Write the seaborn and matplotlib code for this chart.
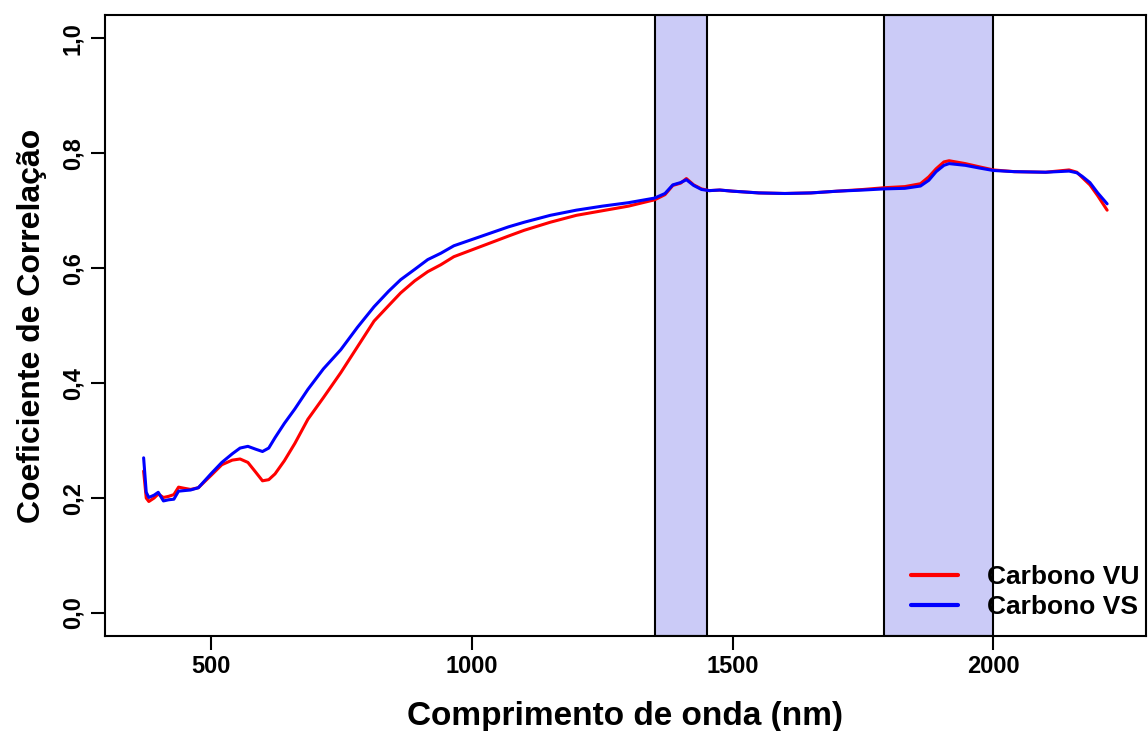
import pandas as pd
import matplotlib
matplotlib.use("Agg")
import matplotlib.pyplot as plt
import seaborn as sns

# wavelength (nm) and correlation values
wavelength = [370, 375, 380, 390, 398, 408, 418, 428, 437, 448, 460, 475, 500, 520, 540,
              555, 570, 585, 598, 610, 622, 640, 660, 685, 715, 748, 780, 812, 840, 863,
              890, 915, 940, 965, 1000, 1035, 1070, 1100, 1150, 1200, 1250, 1300, 1350,
              1370, 1385, 1400, 1411, 1425, 1440, 1455, 1475, 1500, 1550, 1600, 1650,
              1700, 1750, 1790, 1830, 1860, 1876, 1890, 1905, 1915, 1946, 1975, 2000,
              2040, 2100, 2145, 2160, 2170, 2185, 2200, 2218]

carbono_vu = [0.247, 0.200, 0.194, 0.200, 0.207, 0.201, 0.203, 0.206, 0.219, 0.217, 0.215,
              0.218, 0.240, 0.258, 0.266, 0.268, 0.262, 0.245, 0.230, 0.232, 0.242, 0.265,
              0.295, 0.337, 0.375, 0.418, 0.463, 0.508, 0.535, 0.557, 0.578, 0.594, 0.606,
              0.620, 0.632, 0.644, 0.656, 0.666, 0.680, 0.692, 0.700, 0.708, 0.719, 0.728,
              0.744, 0.748, 0.756, 0.745, 0.738, 0.735, 0.736, 0.734, 0.731, 0.730, 0.731,
              0.734, 0.737, 0.740, 0.742, 0.747, 0.759, 0.773, 0.785, 0.787, 0.782, 0.776,
              0.771, 0.768, 0.767, 0.771, 0.767, 0.758, 0.745, 0.726, 0.701]

carbono_vs = [0.270, 0.210, 0.201, 0.205, 0.210, 0.195, 0.197, 0.198, 0.212, 0.213, 0.214,
              0.218, 0.243, 0.262, 0.277, 0.287, 0.290, 0.285, 0.281, 0.287, 0.305, 0.330,
              0.355, 0.389, 0.425, 0.458, 0.497, 0.533, 0.560, 0.580, 0.598, 0.615, 0.626,
              0.639, 0.650, 0.661, 0.672, 0.680, 0.692, 0.701, 0.708, 0.714, 0.722, 0.730,
              0.745, 0.749, 0.754, 0.744, 0.737, 0.735, 0.736, 0.734, 0.731, 0.730, 0.731,
              0.734, 0.736, 0.738, 0.739, 0.743, 0.753, 0.768, 0.779, 0.782, 0.779, 0.774,
              0.770, 0.768, 0.767, 0.769, 0.766, 0.760, 0.749, 0.731, 0.712]

# highlighted bands (nm)
bands = [(1350, 1450), (1790, 2000)]

df = pd.concat([
    pd.DataFrame({"nm": wavelength, "r": carbono_vu, "serie": "Carbono VU"}),
    pd.DataFrame({"nm": wavelength, "r": carbono_vs, "serie": "Carbono VS"}),
])

sns.set_style("ticks")
plt.rcParams["font.family"] = ["Liberation Sans", "DejaVu Sans"]
plt.rcParams["font.weight"] = "bold"
for k in ["text.color", "axes.labelcolor", "xtick.color", "ytick.color", "axes.edgecolor"]:
    plt.rcParams[k] = "black"

fig = plt.figure(figsize=(11.48, 7.31), dpi=100)
ax = fig.add_axes([0.0915, 0.130, 0.9065, 0.849])

for lo, hi in bands:
    ax.axvspan(lo, hi, facecolor="#cbcbf7", edgecolor="black", linewidth=1.5, zorder=1)

sns.lineplot(data=df, x="nm", y="r", hue="serie", palette={"Carbono VU": "#ff0000", "Carbono VS": "#0000ff"},
             linewidth=2.2, ax=ax, zorder=3, estimator=None, sort=False)

ax.set_xlim(296, 2292)
ax.set_ylim(-0.04, 1.04)
ax.set_xticks([500, 1000, 1500, 2000])
ax.set_yticks([0.0, 0.2, 0.4, 0.6, 0.8, 1.0])
ax.set_yticklabels(["0,0", "0,2", "0,4", "0,6", "0,8", "1,0"], rotation=90, va="center")
ax.tick_params(axis="both", labelsize=17, length=10, width=1.5)
ax.tick_params(axis="x", pad=4)
ax.tick_params(axis="y", pad=5)
for lab in ax.get_xticklabels() + ax.get_yticklabels():
    lab.set_fontweight("bold")
for s in ax.spines.values():
    s.set_linewidth(1.5)
    s.set_visible(True)

ax.set_xlabel("Comprimento de onda (nm)", fontsize=24, fontweight="bold", labelpad=16)
ax.set_ylabel("Coeficiente de Correlação", fontsize=23, fontweight="bold", labelpad=10)

leg = ax.legend(loc="lower right", frameon=False, fontsize=19, handlelength=1.8,
                bbox_to_anchor=(1.012, -0.003), borderaxespad=0.3, labelspacing=0.25,
                handletextpad=1.1)
for t in leg.get_texts():
    t.set_fontweight("bold")
for h in leg.get_lines():
    h.set_linewidth(3)

fig.savefig("out.png", dpi=100)
